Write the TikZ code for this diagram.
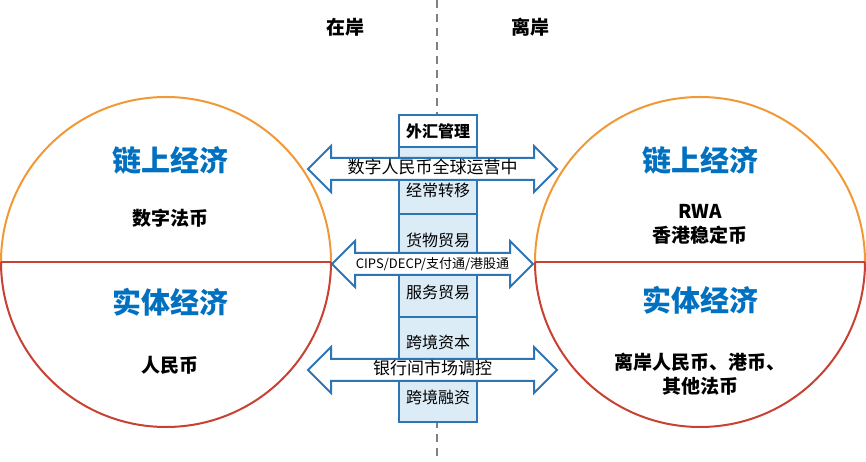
\documentclass[tikz,border=0pt]{standalone}
\usepackage{fontspec}
\setmainfont{Noto Sans CJK SC}
\usetikzlibrary{shapes.arrows}
\definecolor{cblue}{RGB}{0,112,192}
\definecolor{ablue}{RGB}{46,117,182}
\definecolor{lblue}{RGB}{220,236,246}
\definecolor{corange}{RGB}{242,153,55}
\definecolor{cred}{RGB}{200,65,50}
\tikzset{
  big/.style={font=\fontsize{29}{30}\selectfont\bfseries, text=cblue},
  sub/.style={font=\fontsize{19}{24}\selectfont\bfseries},
  seg/.style={draw=ablue, line width=1.6pt, fill=lblue, minimum width=78pt, inner sep=0pt},
  segtxt/.style={font=\fontsize{16}{18}\selectfont},
  darr/.style={double arrow, draw=ablue, line width=2pt, fill=white, inner sep=0pt, text height=15pt, text depth=5pt, double arrow head extend=12pt, font=\fontsize{17}{19}\selectfont},
}
\begin{document}
\begin{tikzpicture}[x=1pt,y=1pt]
\useasboundingbox (0,0) rectangle (866,462);
\fill[white] (0,0) rectangle (866,462);
\draw[gray, line width=1.5pt, dashed, dash pattern=on 8pt off 6pt] (437,462) -- (437,0);
\node[sub] (on) at (345,435) {在岸};
\node[sub] (off) at (530,435) {离岸};
% circles
\draw[corange, line width=2pt] (1,200) arc[start angle=180,end angle=0,radius=165];
\draw[cred, line width=2pt] (331,200) arc[start angle=0,end angle=-180,radius=165];
\draw[cred, line width=2pt] (1,200) -- (331,200);
\draw[corange, line width=2pt] (535,200) arc[start angle=180,end angle=0,radius=165];
\draw[cred, line width=2pt] (865,200) arc[start angle=0,end angle=-180,radius=165];
\draw[cred, line width=2pt] (535,200) -- (865,200);
\node[big] (l1) at (170,302) {链上经济};
\node[sub] (l2) at (170,244) {数字法币};
\node[big] (l3) at (170,160) {实体经济};
\node[sub] (l4) at (170,97) {人民币};
\node[big] (r1) at (700,302) {链上经济};
\node[sub, align=center] (r2) at (700,238) {RWA\\香港稳定币};
\node[big] (r3) at (700,162) {实体经济};
\node[sub, align=center] (r4) at (700,88) {离岸人民币、港币、\\其他法币};
% column
\node[seg, fill=white, minimum height=32pt] (s0) at (438,331) {};
\node[seg, minimum height=67pt] (s1) at (438,281.5) {};
\node[seg, minimum height=103pt] (s2) at (438,196.5) {};
\node[seg, minimum height=105pt] (s3) at (438,92.5) {};
\node[segtxt, font=\fontsize{16}{18}\selectfont\bfseries] (t0) at (438,331) {外汇管理};
\node[segtxt] (t1) at (438,272) {经常转移};
\node[segtxt] (t2) at (438,222) {货物贸易};
\node[segtxt] (t3) at (438,170) {服务贸易};
\node[segtxt] (t4) at (438,120) {跨境资本};
\node[segtxt] (t5) at (438,65) {跨境融资};
% arrows
\node[darr, minimum height=249pt] (a1) at (432.5,293) {数字人民币全球运营中};
\node[darr, minimum height=201pt, font=\fontsize{13}{15}\selectfont] (a2) at (432.5,198) {CIPS/DECP/支付通/港股通};
\node[darr, minimum height=249pt] (a3) at (432.5,92) {银行间市场调控};
\end{tikzpicture}
\end{document}
